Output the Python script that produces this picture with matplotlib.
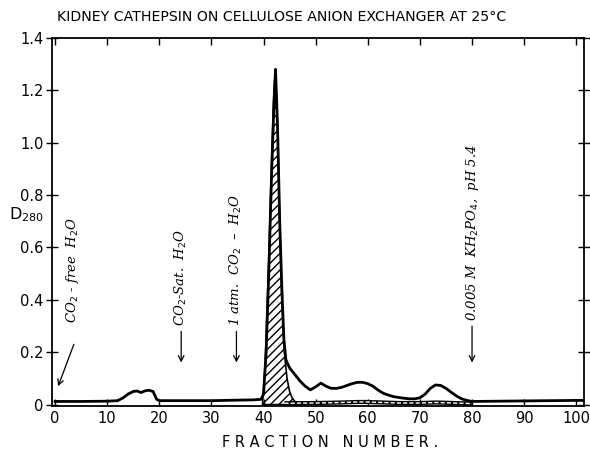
import matplotlib
matplotlib.use("Agg")
import matplotlib.pyplot as plt
import numpy as np

# total absorbance D280 (heavy line)
frac_total = [0, 5, 10, 12, 13, 14, 15, 15.7, 16.5, 17.2, 18, 18.8, 19.5, 20,
              25, 30, 35, 38, 39.5, 40, 40.5, 41, 41.5, 42, 42.3, 42.7, 43.1,
              43.5, 43.9, 44.3, 45, 46, 47, 48, 49, 50, 51, 52, 53, 54, 55, 56,
              57, 58, 59, 60, 61, 62, 63, 64, 65, 66, 67, 68, 69, 70, 71, 72,
              73, 74, 75, 76, 77, 78, 79, 80, 85, 90, 95, 100, 101.5]
d280_total = [0.012, 0.012, 0.013, 0.015, 0.025, 0.04, 0.05, 0.052, 0.046,
              0.052, 0.055, 0.05, 0.02, 0.015, 0.015, 0.015, 0.017, 0.018,
              0.02, 0.04, 0.2, 0.5, 0.85, 1.15, 1.28, 1.05, 0.7, 0.45, 0.25,
              0.17, 0.14, 0.115, 0.09, 0.07, 0.056, 0.068, 0.082, 0.07, 0.062,
              0.062, 0.066, 0.073, 0.08, 0.085, 0.085, 0.08, 0.07, 0.055,
              0.043, 0.036, 0.03, 0.027, 0.024, 0.022, 0.022, 0.026, 0.04,
              0.062, 0.075, 0.073, 0.062, 0.047, 0.033, 0.022, 0.016, 0.012,
              0.013, 0.014, 0.015, 0.016, 0.016]

# cathepsin peak (hatched)
frac_active = [39.8, 40.3, 41, 41.5, 42, 42.3, 42.7, 43.1, 43.5, 44, 44.5, 45,
               45.5, 46, 47]
d280_active = [0.0, 0.15, 0.55, 0.9, 1.2, 1.28, 1.05, 0.7, 0.42, 0.2, 0.1,
               0.05, 0.025, 0.012, 0.006]

# low double line
frac_low = [44, 50, 55, 58, 60, 63, 66, 70, 73, 75, 78, 80]
d280_low = [0.005, 0.006, 0.008, 0.01, 0.01, 0.008, 0.006, 0.006, 0.008,
            0.007, 0.005, 0.004]

xticks = [0, 10, 20, 30, 40, 50, 60, 70, 80, 90, 100]
yticks = [0, 0.2, 0.4, 0.6, 0.8, 1.0, 1.2, 1.4]
ytick_labels = ["0", "0.2", "0.4", "0.6", "0.8", "1.0", "1.2", "1.4"]

fig = plt.figure(figsize=(5.9, 4.51), dpi=100)
ax = fig.add_axes([0.088, 0.100, 0.902, 0.816])

ax.fill_between(frac_active, 0, d280_active, facecolor="white",
                edgecolor="black", hatch="////", linewidth=1.2)
ax.plot(frac_low, d280_low, color="black", lw=3, solid_capstyle="butt")
ax.plot(frac_low, d280_low, color="white", lw=1, ls=(0, (3, 1.5)))
ax.plot(frac_total, d280_total, color="black", lw=2)

ax.set_xlim(-0.6, 101.5)
ax.set_ylim(-0.005, 1.4)
ax.set_xticks(xticks)
ax.set_yticks(yticks)
ax.set_yticklabels(ytick_labels)
ax.tick_params(axis="both", direction="in", top=True, right=True,
               labelsize=10.5, length=5, width=1)
ax.tick_params(axis="y", direction="inout", length=8, pad=2)
for sp in ax.spines.values():
    sp.set_linewidth(1.3)

ax.text(-0.048, 0.52, "D$_{280}$", transform=ax.transAxes, fontsize=11.5,
        ha="center", va="center")

fig.text(0.477, 0.962, "KIDNEY CATHEPSIN ON CELLULOSE ANION EXCHANGER AT 25°C",
         ha="center", va="center", fontsize=10.2)
fig.text(0.56, 0.018, "F R A C T I O N   N U M B E R .", ha="center",
         va="center", fontsize=10.5)

# elution annotations
ann = dict(rotation=90, style="italic", fontsize=9.5, ha="center",
           va="bottom", family="DejaVu Serif")
ax.text(3.4, 0.31, "CO$_2$ - free  H$_2$O", **ann)
ax.annotate("", xy=(0.4, 0.06), xytext=(3.8, 0.24),
            arrowprops=dict(arrowstyle="->", lw=0.9, color="black"))

ax.text(24.2, 0.30, "CO$_2$-Sat.  H$_2$O", **ann)
ax.annotate("", xy=(24.2, 0.15), xytext=(24.2, 0.29),
            arrowprops=dict(arrowstyle="->", lw=0.9, color="black"))

ax.text(34.8, 0.30, "1 atm.  CO$_2$  –  H$_2$O", **ann)
ax.annotate("", xy=(34.8, 0.15), xytext=(34.8, 0.29),
            arrowprops=dict(arrowstyle="->", lw=0.9, color="black"))

ax.text(80, 0.32, "0.005 M  KH$_2$PO$_4$,  pH 5.4", **ann)
ax.annotate("", xy=(80, 0.15), xytext=(80, 0.31),
            arrowprops=dict(arrowstyle="->", lw=0.9, color="black"))

fig.savefig("out.png", dpi=100)
